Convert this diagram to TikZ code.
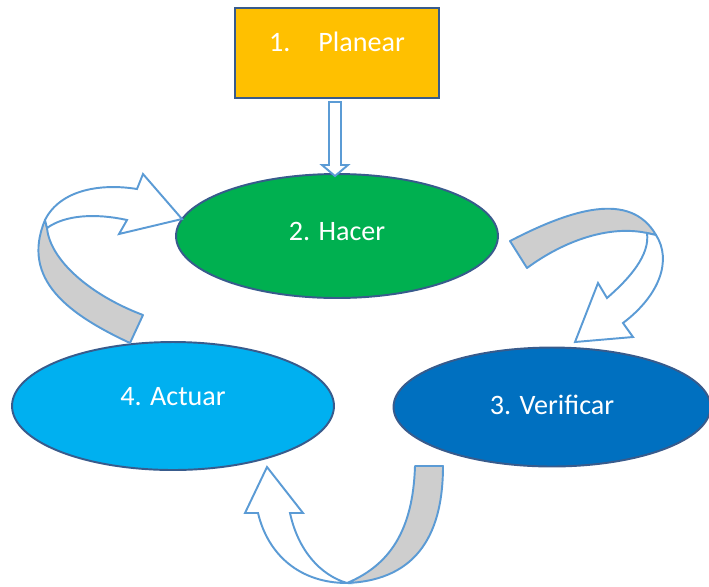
\documentclass[tikz,border=0pt]{standalone}
\usepackage{fontspec}
\setmainfont{Carlito}
\usetikzlibrary{shapes.geometric}
\definecolor{oro}{RGB}{255,192,0}
\definecolor{verde}{RGB}{0,176,80}
\definecolor{azul}{RGB}{0,112,192}
\definecolor{celeste}{RGB}{0,176,240}
\definecolor{borde}{RGB}{56,91,140}
\definecolor{linea}{RGB}{91,155,213}
\definecolor{cinta}{RGB}{206,206,206}
\tikzset{
  pdca_lbl/.style = {text=white, font=\fontsize{16}{19}\selectfont},
  pdca_box/.style = {rectangle, draw=borde, fill=oro, line width=1.1pt,
    minimum width=4.08cm, minimum height=1.8cm},% paso 1
  pdca_ell/.style = {ellipse, draw=borde, line width=1.1pt},% pasos 2-4
  flecha/.style = {draw=linea, fill=white, line width=1.1pt, line join=miter},
  flecha_gris/.style = {draw=linea, fill=cinta, line width=1.1pt, line join=round},
}
\begin{document}
\begin{tikzpicture}[x=0.02cm,y=-0.02cm]
  \useasboundingbox (0,0) rectangle (709,586);

  \node[pdca_box, label={[pdca_lbl,yshift=0.22cm]center:1.\hspace{0.56cm}Planear}] (planear) at (337,53) {};
  \node[pdca_ell, fill=verde, minimum width=6.44cm, minimum height=2.48cm,
    label={[pdca_lbl,yshift=0.1cm]center:2. Hacer}] (hacer) at (337,236) {};
  \node[pdca_ell, fill=azul, minimum width=6.34cm, minimum height=2.38cm,
    label={[pdca_lbl,yshift=0.04cm]center:3. Verificar}] (verificar) at (552,407) {};
  \node[pdca_ell, fill=celeste, minimum width=6.44cm, minimum height=2.56cm,
    label={[pdca_lbl,yshift=0.18cm]center:4. Actuar}] (actuar) at (173,406) {};

  % flecha planear -> hacer
  \path[flecha] (329,102) -- (341,102) -- (341,165) -- (348,165) -- (335,176)
    -- (322,165) -- (329,165) -- cycle;

  % actuar -> hacer
  \path[flecha_gris] (130,343) .. controls (70,315) and (20,280) .. (45,220)
    -- (47,228) .. controls (50,260) and (90,295) .. (143,315) -- cycle;
  \path[flecha] (45,220) .. controls (60,190) and (100,183) .. (137,189)
    -- (143,174) -- (182,219) -- (119,234) -- (127,220)
    .. controls (95,213) and (65,215) .. (47,228) -- cycle;

  % hacer -> verificar
  \path[flecha_gris] (510,241) .. controls (570,210) and (630,190) .. (656,235)
    -- (647,233) .. controls (610,225) and (565,240) .. (527,268) -- cycle;
  \path[flecha] (656,235) .. controls (672,260) and (660,295) .. (623,323)
    -- (633,337) -- (575,342) -- (598,283) -- (607,298)
    .. controls (630,278) and (650,255) .. (647,233) -- cycle;

  % verificar -> actuar
  \path[flecha_gris] (415,466) -- (443,466)
    .. controls (443,530) and (420,580) .. (347,583)
    .. controls (390,565) and (413,530) .. (415,466) -- cycle;
  \path[flecha] (347,583) .. controls (300,583) and (268,555) .. (258,513)
    -- (245,513) -- (267,467) -- (303,513) -- (290,513)
    .. controls (298,550) and (320,575) .. (347,583) -- cycle;
\end{tikzpicture}
\end{document}
